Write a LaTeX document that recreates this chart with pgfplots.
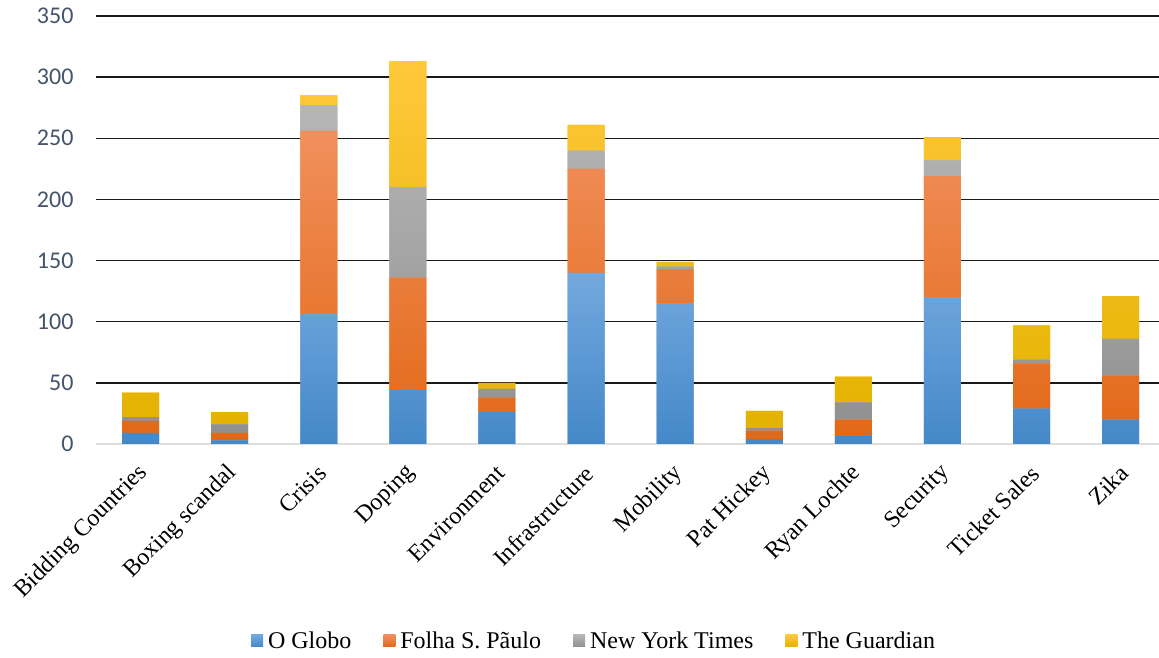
\documentclass[border=0pt]{standalone}
\usepackage{fontspec}
\setmainfont{Liberation Serif}
\newfontfamily\calibri{Carlito}
\usepackage{pgfplots}
\pgfplotsset{compat=1.18}
\definecolor{blueT}{RGB}{115,168,222}
\definecolor{blueB}{RGB}{68,136,200}
\definecolor{blueM}{RGB}{91,155,213}
\definecolor{oraT}{RGB}{241,143,92}
\definecolor{oraB}{RGB}{226,104,22}
\definecolor{oraM}{RGB}{237,125,49}
\definecolor{grayT}{RGB}{182,182,182}
\definecolor{grayB}{RGB}{144,144,144}
\definecolor{grayM}{RGB}{165,165,165}
\definecolor{yelT}{RGB}{255,200,60}
\definecolor{yelB}{RGB}{228,178,0}
\definecolor{yelM}{RGB}{255,192,0}
\definecolor{ticknum}{RGB}{68,84,106}
\begin{document}
\begin{tikzpicture}
\path[use as bounding box] (0,0) rectangle (1159pt,658pt);
\begin{axis}[
  at={(96pt,214pt)}, anchor=south west,
  scale only axis, width=1063pt, height=428pt,
  ybar stacked, bar width=37pt,
  xmin=-0.5, xmax=11.43, ymin=0, ymax=350,
  xtick={0,...,11},
  xticklabels={Bidding Countries,Boxing scandal,Crisis,Doping,Environment,Infrastructure,Mobility,Pat Hickey,Ryan Lochte,Security,Ticket Sales,Zika},
  ytick={0,50,...,350},
  /pgf/number format/assume math mode=true,
  yticklabel style={font=\calibri\fontsize{24}{28}\selectfont, text=ticknum, xshift=-19pt},
  xticklabel style={font=\fontsize{24}{28}\selectfont, rotate=45, anchor=east, inner sep=0pt, yshift=-20.5pt, xshift=-15.5pt},
  axis x line*=bottom, axis y line*=left,
  x axis line style={draw=gray!25, line width=2.5pt, -},
  y axis line style={draw=none},
  major tick length=0pt,
  ymajorgrids, major grid style={black!90, line width=1.5pt},
  legend style={at={(0.4685,-0.46)}, anchor=center, draw=none, legend columns=4,
    font=\fontsize{24}{28}\selectfont,
    /tikz/every odd column/.append style={column sep=3pt},
    /tikz/every even column/.append style={column sep=30pt}},
  legend image code/.code={\fill[#1] (0pt,-6pt) rectangle (12pt,6pt);},
]
\addplot[draw=none, top color=blueT, bottom color=blueB, fill=blueM] coordinates {(0,9)(1,3)(2,106)(3,44)(4,26)(5,140)(6,115)(7,4)(8,7)(9,120)(10,29)(11,20)};
\addlegendentry{O Globo}
\addplot[draw=none, top color=oraT, bottom color=oraB, fill=oraM] coordinates {(0,10)(1,6)(2,150)(3,92)(4,12)(5,85)(6,28)(7,7)(8,13)(9,99)(10,37)(11,36)};
\addlegendentry{Folha S. Pãulo}
\addplot[draw=none, top color=grayT, bottom color=grayB, fill=grayM] coordinates {(0,3)(1,7)(2,21)(3,74)(4,7)(5,15)(6,2)(7,2)(8,14)(9,13)(10,3)(11,30)};
\addlegendentry{New York Times}
\addplot[draw=none, top color=yelT, bottom color=yelB, fill=yelM] coordinates {(0,20)(1,10)(2,8)(3,103)(4,5)(5,21)(6,4)(7,14)(8,21)(9,19)(10,28)(11,35)};
\addlegendentry{The Guardian}
\end{axis}
\end{tikzpicture}
\end{document}
